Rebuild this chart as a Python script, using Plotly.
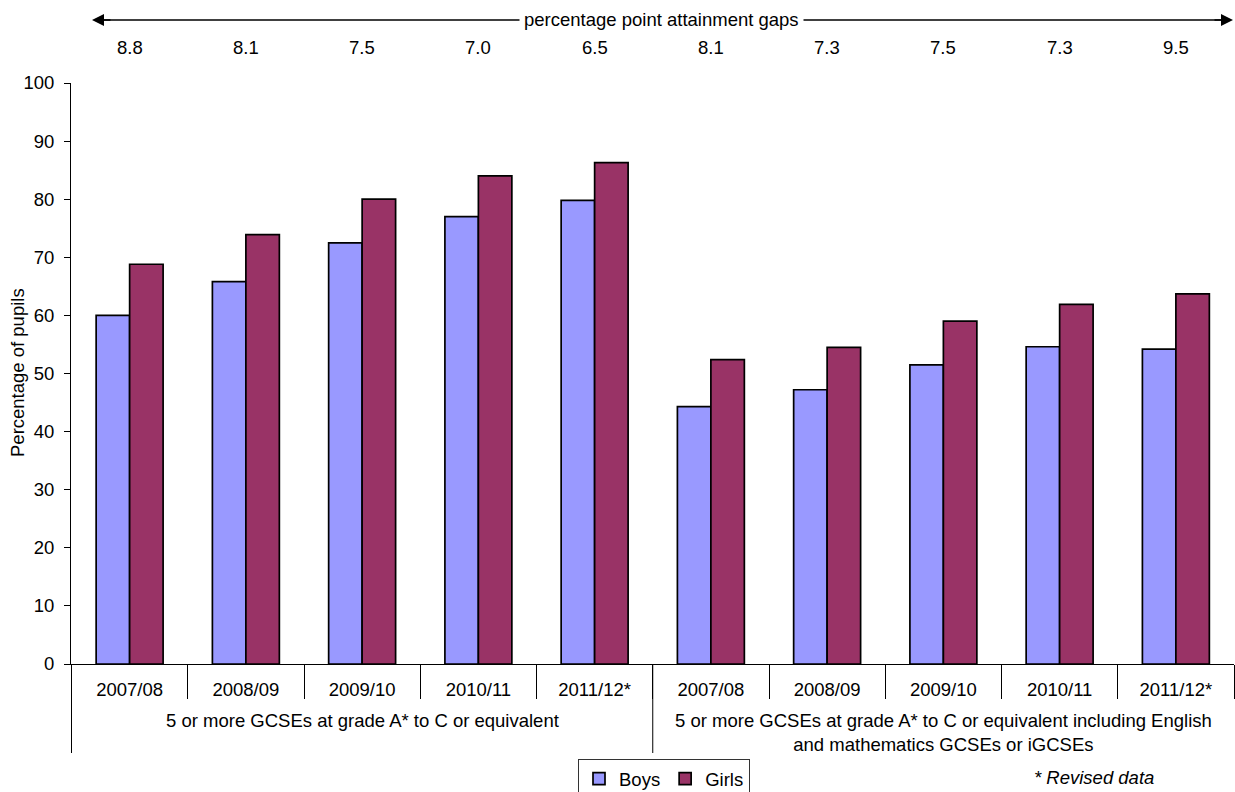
import plotly.graph_objects as go

groups = ["5 or more GCSEs at grade A* to C or equivalent",
          "5 or more GCSEs at grade A* to C or equivalent including English<br>and mathematics GCSEs or iGCSEs"]
years = ["2007/08", "2008/09", "2009/10", "2010/11", "2011/12*"]
boys = [60.0, 65.8, 72.5, 77.0, 79.8, 44.3, 47.2, 51.5, 54.6, 54.2]
girls = [68.8, 73.9, 80.0, 84.0, 86.3, 52.4, 54.5, 59.0, 61.9, 63.7]
gap_title = "percentage point attainment gaps"
y_title = "Percentage of pupils"
note = "* Revised data"

# unique category keys; the visible tick text is the year
cats = [f"{gi}|{y}" for gi in range(len(groups)) for y in years]
tick_text = years * len(groups)

FONT = "Liberation Sans, Arial, sans-serif"
FS = 18.5
W, H = 1235, 792
L, R, T, B = 71, 1, 83, 128
PH = H - T - B
PW = W - L - R


def py(pix):  # pixel row -> paper y
    return (H - B - pix) / PH


def px(pix):  # pixel column -> paper x
    return (pix - L) / PW


fig = go.Figure()
fig.add_trace(go.Bar(name="Boys", x=cats, y=boys,
                     marker=dict(color="#9999FF", line=dict(color="black", width=1.7))))
fig.add_trace(go.Bar(name="Girls", x=cats, y=girls,
                     marker=dict(color="#993366", line=dict(color="black", width=1.7))))

# attainment gaps row
for i, (b, g) in enumerate(zip(boys, girls)):
    fig.add_annotation(x=i, y=py(47), xref="x", yref="paper", xanchor="center", yanchor="middle",
                       text=f"{g - b:.1f}", showarrow=False,
                       font=dict(size=FS, color="black", family=FONT))

# arrow line with title
yline = py(20)
fig.add_shape(type="line", xref="paper", yref="paper", x0=px(100), x1=px(1222),
              y0=yline, y1=yline, line=dict(color="black", width=1.5))
fig.add_annotation(xref="paper", yref="paper", x=px(92), y=yline, text="",
                   showarrow=True, arrowhead=2, arrowsize=1.6, arrowwidth=1.5, ax=20, ay=0,
                   arrowcolor="black")
fig.add_annotation(xref="paper", yref="paper", x=px(1233), y=yline, text="",
                   showarrow=True, arrowhead=2, arrowsize=1.6, arrowwidth=1.5, ax=-20, ay=0,
                   arrowcolor="black")
fig.add_annotation(xref="paper", yref="paper", x=px(662), y=yline, xanchor="center",
                   yanchor="middle", text=gap_title, showarrow=False, bgcolor="white",
                   borderpad=4, font=dict(size=FS, color="black", family=FONT))

# y axis title
fig.add_annotation(xref="paper", yref="paper", x=px(17), y=py(373), xanchor="center",
                   yanchor="middle", textangle=-90, text=y_title, showarrow=False,
                   font=dict(size=FS, color="black", family=FONT))

# group labels and group dividers
n = len(years)
for gi, g in enumerate(groups):
    fig.add_annotation(xref="x", yref="paper", x=gi * n + (n - 1) / 2, y=py(708),
                       xanchor="center", yanchor="top",
                       text=g, showarrow=False,
                       font=dict(size=FS, color="black", family=FONT))
    fig.add_shape(type="line", xref="x", yref="paper", x0=gi * n - 0.5, x1=gi * n - 0.5,
                  y0=0, y1=py(753), line=dict(color="black", width=1))

fig.add_annotation(xref="paper", yref="paper", x=px(1094), y=py(777), xanchor="center",
                   yanchor="middle", text=f"<i>{note}</i>", showarrow=False,
                   font=dict(size=FS, color="black", family=FONT))

fig.update_layout(
    width=W, height=H,
    margin=dict(l=L, r=R, t=T, b=B, autoexpand=False),
    paper_bgcolor="white", plot_bgcolor="white",
    barmode="group", bargap=0.424, bargroupgap=0,
    font=dict(family=FONT, size=FS, color="black"),
    showlegend=True,
    legend=dict(orientation="h", x=px(664), xanchor="center",
                y=py(759), yanchor="top",
                bordercolor="#333333", borderwidth=1, font=dict(size=FS),
                itemwidth=30, tracegroupgap=0),
    xaxis=dict(type="category", categoryorder="array", categoryarray=cats,
               tickmode="array", tickvals=cats, ticktext=tick_text,
               showline=True, linecolor="black", linewidth=1,
               ticks="outside", tickson="boundaries", ticklen=34, tickcolor="black",
               ticklabelstandoff=9,
               tickfont=dict(size=FS, color="black", family=FONT), showgrid=False,
               automargin=False),
    yaxis=dict(range=[0, 100], dtick=10, showline=True, linecolor="black", linewidth=1,
               ticks="outside", ticklen=6, tickcolor="black", showgrid=False, zeroline=False,
               ticklabelstandoff=6,
               tickfont=dict(size=FS, color="black", family=FONT), automargin=False),
)

fig.write_html("out.html", config={"displayModeBar": False},
               post_script="document.body.style.margin='0';document.body.style.overflow='hidden';")
